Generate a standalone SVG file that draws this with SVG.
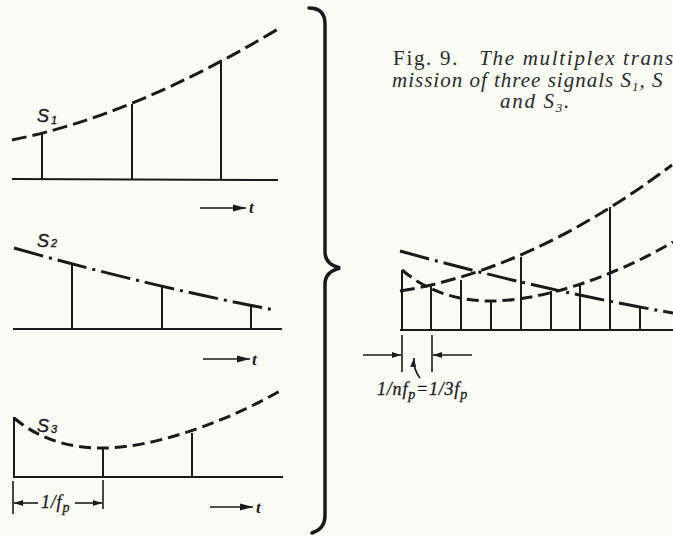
<svg xmlns="http://www.w3.org/2000/svg" width="673" height="537" viewBox="0 0 673 537">
<defs>
<style>
.bg{fill:#fcfcf7}
.ln{stroke:#1a1a1a;stroke-width:2;fill:none}
.thin{stroke:#1a1a1a;stroke-width:1.6;fill:none}
.c1{stroke:#1a1a1a;stroke-width:3;fill:none;stroke-dasharray:15 6}
.c2{stroke:#1a1a1a;stroke-width:3;fill:none;stroke-dasharray:30 6 3 6}
.c3{stroke:#1a1a1a;stroke-width:3;fill:none;stroke-dasharray:12 6}
.brace{stroke:#1a1a1a;stroke-width:3.5;fill:none;stroke-linecap:round}
.lbl{font-family:"Liberation Sans",Arial,sans-serif;font-style:italic;font-size:18px;fill:#1a1a1a;stroke:#1a1a1a;stroke-width:0.4}
.sub{font-size:11px}
.t{font-family:"Liberation Serif","Times New Roman",serif;font-style:italic;font-weight:bold;font-size:17px;fill:#1a1a1a}
.cap{font-family:"Liberation Serif","Times New Roman",serif;font-size:21px;letter-spacing:1.7px;fill:#2a2a2a}
.it{font-style:italic}
.dim{font-family:"Liberation Serif","Times New Roman",serif;font-style:italic;font-size:18px;letter-spacing:0.8px;fill:#1a1a1a;stroke:#1a1a1a;stroke-width:0.3}
</style>
<marker id="ah" markerUnits="userSpaceOnUse" markerWidth="14" markerHeight="8" refX="13" refY="4" orient="auto"><path d="M0,0.5 L13,4 L0,7.5 z" fill="#1a1a1a"/></marker>
<marker id="ahs" markerUnits="userSpaceOnUse" markerWidth="10" markerHeight="7" refX="9" refY="3.5" orient="auto"><path d="M0,0.5 L9,3.5 L0,6.5 z" fill="#1a1a1a"/></marker>
</defs>
<rect class="bg" x="0" y="0" width="673" height="537"/>

<g id="panel-s1">
<line class="ln" x1="12" y1="179" x2="278" y2="180"/>
<line class="ln" x1="42" y1="134" x2="42" y2="179"/>
<line class="ln" x1="132" y1="104" x2="132" y2="179"/>
<line class="ln" x1="221" y1="60" x2="221" y2="180"/>
<path class="c1" d="M12,140 Q133,116 278,29"/>
<text class="lbl" x="37" y="122">S<tspan class="sub" dx="2" dy="2">1</tspan></text>
<line class="thin" x1="200" y1="208" x2="246" y2="208" marker-end="url(#ah)"/>
<text class="t" x="249" y="213">t</text>
</g>

<g id="panel-s2">
<line class="ln" x1="13" y1="329" x2="282" y2="329"/>
<line class="ln" x1="72" y1="264" x2="72" y2="329"/>
<line class="ln" x1="162" y1="286" x2="162" y2="329"/>
<line class="ln" x1="251" y1="305" x2="251" y2="329"/>
<path class="c2" d="M14,248 Q152,287 275,310"/>
<text class="lbl" x="37" y="247">S<tspan class="sub" dx="2" dy="0">2</tspan></text>
<line class="thin" x1="203" y1="359" x2="250" y2="359" marker-end="url(#ah)"/>
<text class="t" x="252" y="365">t</text>
</g>

<g id="panel-s3">
<line class="ln" x1="13" y1="477" x2="283" y2="477"/>
<line class="ln" x1="14" y1="417" x2="14" y2="477"/>
<line class="ln" x1="103" y1="448" x2="103" y2="477"/>
<line class="ln" x1="192" y1="433" x2="192" y2="477"/>
<path class="c3" d="M14,418 C40,440 70,448 103,448 C150,448 220,425 280,391"/>
<text class="lbl" x="37" y="432">S<tspan class="sub" dx="2" dy="1">3</tspan></text>
<line class="thin" x1="13" y1="481" x2="13" y2="514"/>
<line class="thin" x1="103" y1="480" x2="103" y2="509"/>
<line class="thin" x1="38" y1="503" x2="14" y2="503" marker-end="url(#ahs)"/>
<line class="thin" x1="75" y1="503" x2="102" y2="503" marker-end="url(#ahs)"/>
<text class="dim" x="41" y="508">1/f<tspan dy="4" font-size="14">p</tspan></text>
<line class="thin" x1="210" y1="507" x2="253" y2="507" marker-end="url(#ah)"/>
<text class="t" x="256" y="513">t</text>
</g>

<g id="brace">
<path class="brace" d="M309,8 C318,8 325,12 325,24 L325,252 C325,262 332,266 340,268 C332,270 325,274 325,284 L325,516 C325,526 318,531 312,533"/>
</g>

<g id="caption">
<text class="cap" x="393" y="65">Fig. 9.<tspan class="it" dx="20">The multiplex trans</tspan></text>
<text class="cap it" x="392" y="87" style="letter-spacing:1px">mission of three signals S<tspan font-size="13" dy="4">1</tspan><tspan dy="-4">, S</tspan></text>
<text class="cap it" x="500" y="108">and S<tspan font-size="13" dy="4">3</tspan><tspan dy="-4">.</tspan></text>
</g>

<g id="panel-multiplex">
<line class="ln" x1="400" y1="330" x2="673" y2="330"/>
<line class="ln" x1="402" y1="270" x2="402" y2="330"/>
<line class="ln" x1="431" y1="286" x2="431" y2="330"/>
<line class="ln" x1="461" y1="280" x2="461" y2="330"/>
<line class="ln" x1="491" y1="300" x2="491" y2="330"/>
<line class="ln" x1="521" y1="257" x2="521" y2="330"/>
<line class="ln" x1="551" y1="291" x2="551" y2="330"/>
<line class="ln" x1="580" y1="285" x2="580" y2="330"/>
<line class="ln" x1="610" y1="207" x2="610" y2="330"/>
<line class="ln" x1="640" y1="308" x2="640" y2="330"/>
<path class="c1" d="M400,291 Q532,270 672,165"/>
<path class="c2" d="M400,251 Q540,290 673,313"/>
<path class="c3" d="M402,270 C428,292 458,301 491,301 C538,301 608,280 673,242"/>
<line class="thin" x1="402" y1="335" x2="402" y2="372"/>
<line class="thin" x1="432" y1="335" x2="432" y2="372"/>
<line class="thin" x1="363" y1="355" x2="401" y2="355" marker-end="url(#ahs)"/>
<line class="thin" x1="472" y1="355" x2="433" y2="355" marker-end="url(#ahs)"/>
<path class="thin" d="M420,378 Q413,369 414,358" marker-end="url(#ahs)"/>
<text class="dim" x="377" y="395">1/nf<tspan dy="4" font-size="14">p</tspan><tspan dy="-4">=1/3f</tspan><tspan dy="4" font-size="14">p</tspan></text>
</g>
</svg>
